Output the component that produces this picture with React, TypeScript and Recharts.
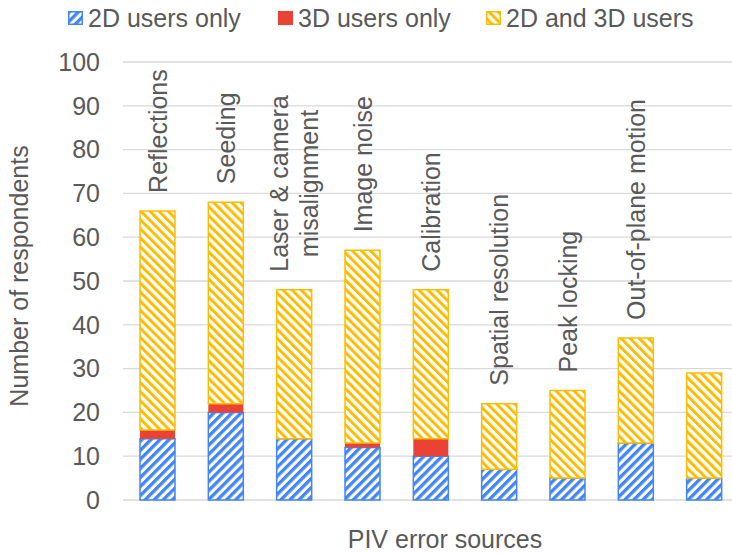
import { BarChart, Bar, XAxis, YAxis, CartesianGrid, LabelList, Label } from 'recharts';

const sources = [
  'Reflections',
  'Seeding',
  'Laser & camera\nmisalignment',
  'Image noise',
  'Calibration',
  'Spatial resolution',
  'Peak locking',
  'Out-of-plane motion',
  '',
];
const users2D = [14, 20, 14, 12, 10, 7, 5, 13, 5];
const users3D = [2, 2, 0, 1, 4, 0, 0, 0, 0];
const usersBoth = [50, 46, 34, 44, 34, 15, 20, 24, 24];
const yTicks = [0, 10, 20, 30, 40, 50, 60, 70, 80, 90, 100];

const series = [
  { key: 'only2D', name: '2D users only', color: '#4285F4', fill: 'url(#hatchBlue)' },
  { key: 'only3D', name: '3D users only', color: '#EA4335', fill: '#EA4335' },
  { key: 'both', name: '2D and 3D users', color: '#FBBC04', fill: 'url(#hatchYellow)' },
];

const data = sources.map((name, i) => ({
  name: name || `cat${i}`,
  label: name,
  only2D: users2D[i],
  only3D: users3D[i],
  both: usersBoth[i],
}));

const FONT = '"Liberation Sans", Arial, sans-serif';
const TEXT = '#595959';
const FS = 25;

function textWidth(s: string) {
  try {
    const ctx = document.createElement('canvas').getContext('2d');
    if (ctx) {
      ctx.font = `${FS}px "Liberation Sans"`;
      return ctx.measureText(s).width;
    }
  } catch (e) {}
  return s.length * FS * 0.5;
}

// rotated label sitting a little above the top of each stack
function TopLabel(props: any) {
  const { x, y, width, index } = props;
  const text = data[index].label;
  if (!text) return null;
  const lines = text.split('\n');
  const cx = x + width / 2;
  const gap = 18;
  if (lines.length === 1) {
    return (
      <text
        transform={`translate(${cx},${y - gap}) rotate(-90)`}
        textAnchor="start"
        dominantBaseline="central"
        fontSize={FS}
        fontFamily={FONT}
        fill={TEXT}
      >
        {text}
      </text>
    );
  }
  const w = Math.max(...lines.map(textWidth));
  return (
    <text
      transform={`translate(${cx},${y - gap - w / 2}) rotate(-90)`}
      textAnchor="middle"
      dominantBaseline="central"
      fontSize={FS}
      fontFamily={FONT}
      fill={TEXT}
    >
      {lines.map((l: string, i: number) => (
        <tspan key={i} x={0} y={(i - (lines.length - 1) / 2) * 30}>
          {l}
        </tspan>
      ))}
    </text>
  );
}

function Hatches() {
  return (
    <defs>
      <pattern id="hatchBlue" patternUnits="userSpaceOnUse" width={6.4} height={6.4} patternTransform="rotate(45)">
        <rect x={0} y={0} width={6.4} height={6.4} fill="#fff" />
        <rect x={0} y={0} width={3.3} height={6.4} fill="#4285F4" />
      </pattern>
      <pattern id="hatchYellow" patternUnits="userSpaceOnUse" width={6.4} height={6.4} patternTransform="rotate(-45)">
        <rect x={0} y={0} width={6.4} height={6.4} fill="#fff" />
        <rect x={0} y={0} width={3.0} height={6.4} fill="#FBBC04" />
      </pattern>
    </defs>
  );
}

function LegendRow() {
  const starts = [68, 278, 486];
  return (
    <div style={{ position: 'absolute', left: 0, top: 0, width: 732, height: 40 }}>
      {series.map((s, i) => (
        <div
          key={s.key}
          style={{
            position: 'absolute',
            left: starts[i],
            top: 3,
            display: 'flex',
            alignItems: 'center',
            fontFamily: FONT,
            fontSize: FS,
            color: TEXT,
            whiteSpace: 'nowrap',
            lineHeight: '30px',
          }}
        >
          <svg width={15} height={14} style={{ marginRight: 5 }}>
            <rect x={0.75} y={0.75} width={13.5} height={12.5} fill={s.fill} stroke={s.color} strokeWidth={1.5} />
          </svg>
          {s.name}
        </div>
      ))}
    </div>
  );
}

export default function App() {
  return (
    <div style={{ position: 'absolute', left: 0, top: 0, width: 732, height: 554, overflow: 'hidden', background: '#fff' }}>
      <BarChart
        width={738}
        height={554}
        data={data}
        margin={{ top: 62, right: 0, bottom: 0, left: 0 }}
        barSize={35}
      >
        <Hatches />
        <CartesianGrid horizontal vertical={false} stroke="#D9D9D9" strokeWidth={1.3} />
        <XAxis dataKey="name" height={54} tick={false} tickLine={false} axisLine={false}>
          <Label
            content={() => (
              <text x={445} y={548} textAnchor="middle" fontSize={FS} fontFamily={FONT} fill={TEXT}>
                PIV error sources
              </text>
            )}
          />
        </XAxis>
        <YAxis
          width={123}
          domain={[0, 100]}
          ticks={yTicks}
          interval={0}
          tickLine={false}
          axisLine={false}
          tickSize={0}
          tickMargin={23}
          tick={{ fontSize: FS, fontFamily: FONT, fill: TEXT }}
        >
          <Label
            content={() => (
              <text
                transform="translate(19,276) rotate(-90)"
                textAnchor="middle"
                dominantBaseline="central"
                fontSize={FS}
                fontFamily={FONT}
                fill={TEXT}
              >
                Number of respondents
              </text>
            )}
          />
        </YAxis>
        {series.map((s, i) => (
          <Bar
            key={s.key}
            dataKey={s.key}
            name={s.name}
            stackId="users"
            fill={s.fill}
            stroke={s.key === 'only3D' ? 'none' : s.color}
            strokeWidth={1.5}
            isAnimationActive={false}
          >
            {i === series.length - 1 && <LabelList dataKey="both" content={TopLabel} />}
          </Bar>
        ))}
      </BarChart>
      <LegendRow />
    </div>
  );
}
